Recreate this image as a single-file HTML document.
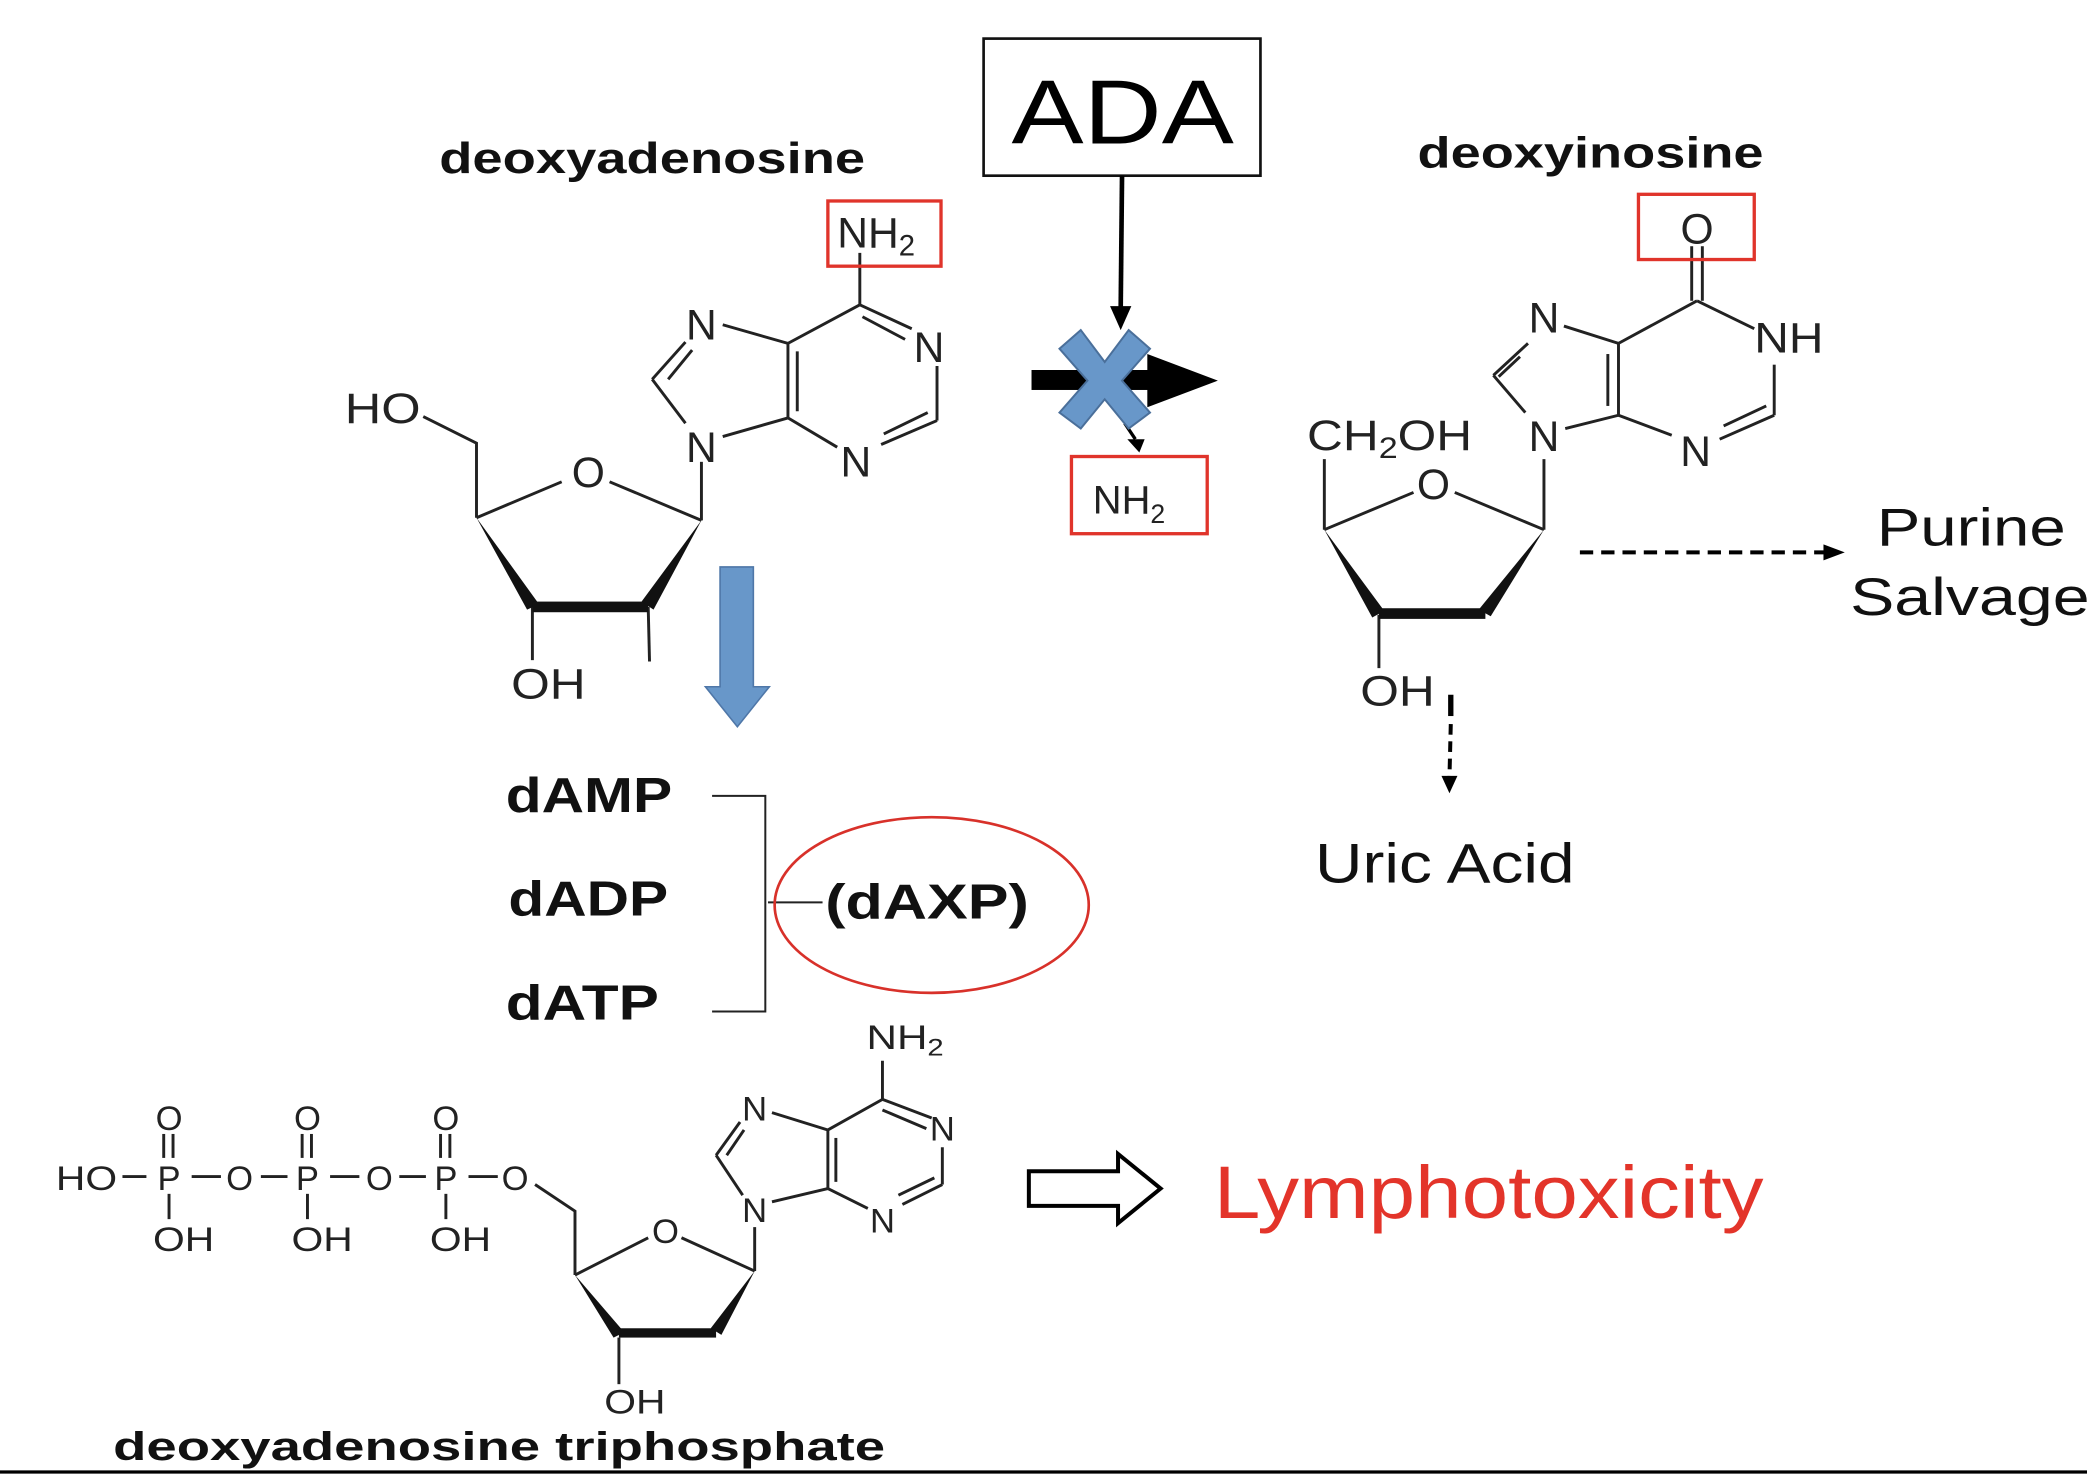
<!DOCTYPE html>
<html><head><meta charset="utf-8"><style>
html,body{margin:0;padding:0;background:#fff;}
svg{display:block;}
text{font-family:"Liberation Sans",Arial,sans-serif;}
</style></head><body>
<svg width="2087" height="1478" viewBox="0 0 1568 1110.5" preserveAspectRatio="none" xmlns="http://www.w3.org/2000/svg">
<rect width="1568" height="1110.5" fill="#fff"/>
<g stroke="#222" stroke-width="2.2" fill="none">
<polyline points="318,313 358,333 358,389"/>
<line x1="358" y1="389" x2="422" y2="362"/>
<line x1="458" y1="362" x2="527" y2="391"/>
<line x1="527" y1="391" x2="527" y2="347"/>
<line x1="515" y1="318" x2="490" y2="285"/>
<line x1="490" y1="285" x2="515" y2="257"/>
<line x1="502" y1="285" x2="520" y2="263"/>
<line x1="543" y1="244" x2="592" y2="258"/>
<line x1="592" y1="258" x2="592" y2="314"/>
<line x1="599" y1="264" x2="599" y2="309"/>
<line x1="543" y1="328" x2="592" y2="314"/>
<line x1="592" y1="258" x2="646" y2="229"/>
<line x1="646" y1="229" x2="646" y2="190"/>
<line x1="646" y1="229" x2="685" y2="247"/>
<line x1="648" y1="238" x2="680" y2="255"/>
<line x1="704" y1="275" x2="704" y2="316"/>
<line x1="704" y1="316" x2="662" y2="334"/>
<line x1="697" y1="310" x2="664" y2="326"/>
<line x1="629" y1="336" x2="592" y2="314"/>
<line x1="400" y1="456" x2="400" y2="496"/>
<line x1="487" y1="456" x2="488" y2="497"/>
<line x1="1271" y1="185" x2="1271" y2="226"/>
<line x1="1279" y1="185" x2="1279" y2="226"/>
<line x1="1275" y1="226" x2="1318" y2="247"/>
<line x1="1333" y1="274" x2="1333" y2="312"/>
<line x1="1333" y1="312" x2="1292" y2="330"/>
<line x1="1327" y1="305" x2="1295" y2="320"/>
<line x1="1256" y1="327" x2="1216" y2="312"/>
<line x1="1216" y1="312" x2="1216" y2="258"/>
<line x1="1208" y1="305" x2="1208" y2="266"/>
<line x1="1216" y1="258" x2="1275" y2="226"/>
<line x1="1216" y1="258" x2="1175" y2="245"/>
<line x1="1148" y1="258" x2="1122" y2="282"/>
<line x1="1142" y1="268" x2="1126" y2="283"/>
<line x1="1122" y1="282" x2="1146" y2="310"/>
<line x1="1176" y1="322" x2="1216" y2="312"/>
<line x1="1160" y1="345" x2="1160" y2="398"/>
<line x1="995" y1="398" x2="995" y2="345"/>
<line x1="995" y1="398" x2="1062" y2="370"/>
<line x1="1093" y1="370" x2="1160" y2="398"/>
<line x1="1036" y1="462" x2="1036" y2="502"/>
<line x1="92" y1="884" x2="110" y2="884"/>
<line x1="144" y1="884" x2="166" y2="884"/>
<line x1="196" y1="884" x2="216" y2="884"/>
<line x1="248" y1="884" x2="270" y2="884"/>
<line x1="300" y1="884" x2="320" y2="884"/>
<line x1="352" y1="884" x2="374" y2="884"/>
<line x1="123" y1="852" x2="123" y2="870"/><line x1="130" y1="852" x2="130" y2="870"/>
<line x1="227" y1="852" x2="227" y2="870"/><line x1="234" y1="852" x2="234" y2="870"/>
<line x1="331" y1="852" x2="331" y2="870"/><line x1="338" y1="852" x2="338" y2="870"/>
<line x1="127" y1="897" x2="127" y2="916"/>
<line x1="231" y1="897" x2="231" y2="916"/>
<line x1="335" y1="897" x2="335" y2="916"/>
<polyline points="402,890 432,910 432,958"/>
<line x1="432" y1="958" x2="487" y2="930"/>
<line x1="512" y1="930" x2="567" y2="955"/>
<line x1="567" y1="955" x2="567" y2="922"/>
<line x1="558" y1="898" x2="538" y2="868"/>
<line x1="538" y1="868" x2="556" y2="843"/>
<line x1="546" y1="868" x2="559" y2="849"/>
<line x1="580" y1="836" x2="622" y2="849"/>
<line x1="622" y1="849" x2="622" y2="893"/>
<line x1="628" y1="855" x2="628" y2="888"/>
<line x1="580" y1="903" x2="622" y2="893"/>
<line x1="622" y1="849" x2="663" y2="826"/>
<line x1="663" y1="826" x2="663" y2="797"/>
<line x1="663" y1="826" x2="700" y2="840"/>
<line x1="663" y1="834" x2="696" y2="848"/>
<line x1="708" y1="862" x2="708" y2="890"/>
<line x1="708" y1="890" x2="678" y2="905"/>
<line x1="702" y1="885" x2="675" y2="898"/>
<line x1="652" y1="908" x2="622" y2="893"/>
<line x1="465" y1="1005" x2="465" y2="1040"/>
<polyline points="535,598 575,598 575,760 535,760" stroke-width="1.5"/>
<line x1="577" y1="678" x2="618" y2="678" stroke-width="1.5"/>
</g>
<g fill="#111">
<polygon points="358,389 396,458 405,454"/>
<rect x="400" y="452" width="87" height="8"/>
<polygon points="527,391 482,452 491,458"/>
<polygon points="995,398 1031,464 1040,459"/>
<rect x="1036" y="457" width="80" height="8"/>
<polygon points="1160,398 1111,458 1120,463"/>
<polygon points="432,958 461,1005 469,1001"/>
<rect x="465" y="998" width="73" height="7"/>
<polygon points="567,955 534,998 542,1003"/>
</g>
<g font-size="32" fill="#222">
<text x="259" y="318" textLength="57" lengthAdjust="spacingAndGlyphs">HO</text>
<text x="442" y="366" text-anchor="middle">O</text>
<text x="527" y="347" text-anchor="middle">N</text>
<text x="527" y="255" text-anchor="middle">N</text>
<text x="698" y="272" text-anchor="middle">N</text>
<text x="643" y="358" text-anchor="middle">N</text>
<text x="629" y="186">NH<tspan font-size="22" dy="6">2</tspan></text>
<text x="384" y="525" textLength="56" lengthAdjust="spacingAndGlyphs">OH</text>
<text x="1275" y="183" text-anchor="middle">O</text>
<text x="1318" y="265" textLength="52" lengthAdjust="spacingAndGlyphs">NH</text>
<text x="1160" y="250" text-anchor="middle">N</text>
<text x="1160" y="339" text-anchor="middle">N</text>
<text x="1274" y="350" text-anchor="middle">N</text>
<text x="982" y="338" textLength="124" lengthAdjust="spacingAndGlyphs">CH<tspan font-size="22" dy="6">2</tspan><tspan dy="-6">OH</tspan></text>
<text x="1077" y="375" text-anchor="middle">O</text>
<text x="1022" y="530" textLength="56" lengthAdjust="spacingAndGlyphs">OH</text>
</g>
<g font-size="26" fill="#222">
<text x="42" y="894" textLength="46" lengthAdjust="spacingAndGlyphs">HO</text>
<text x="127" y="894" text-anchor="middle">P</text>
<text x="180" y="894" text-anchor="middle">O</text>
<text x="231" y="894" text-anchor="middle">P</text>
<text x="285" y="894" text-anchor="middle">O</text>
<text x="335" y="894" text-anchor="middle">P</text>
<text x="387" y="894" text-anchor="middle">O</text>
<text x="127" y="849" text-anchor="middle">O</text>
<text x="231" y="849" text-anchor="middle">O</text>
<text x="335" y="849" text-anchor="middle">O</text>
<text x="115" y="940" textLength="46" lengthAdjust="spacingAndGlyphs">OH</text>
<text x="219" y="940" textLength="46" lengthAdjust="spacingAndGlyphs">OH</text>
<text x="323" y="940" textLength="46" lengthAdjust="spacingAndGlyphs">OH</text>
<text x="500" y="934" text-anchor="middle">O</text>
<text x="567" y="918" text-anchor="middle">N</text>
<text x="567" y="842" text-anchor="middle">N</text>
<text x="708" y="857" text-anchor="middle">N</text>
<text x="663" y="926" text-anchor="middle">N</text>
<text x="651" y="788" textLength="58" lengthAdjust="spacingAndGlyphs">NH<tspan font-size="18" dy="5">2</tspan></text>
<text x="454" y="1062" textLength="46" lengthAdjust="spacingAndGlyphs">OH</text>
</g>
<g font-weight="bold" fill="#111">
<text x="330" y="130" font-size="33" textLength="320" lengthAdjust="spacingAndGlyphs">deoxyadenosine</text>
<text x="1065" y="126" font-size="33" textLength="260" lengthAdjust="spacingAndGlyphs">deoxyinosine</text>
<text x="85" y="1097" font-size="30" textLength="580" lengthAdjust="spacingAndGlyphs">deoxyadenosine triphosphate</text>
<text x="380" y="610" font-size="37" textLength="125" lengthAdjust="spacingAndGlyphs">dAMP</text>
<text x="382" y="688" font-size="37" textLength="120" lengthAdjust="spacingAndGlyphs">dADP</text>
<text x="380" y="766" font-size="37" textLength="115" lengthAdjust="spacingAndGlyphs">dATP</text>
<text x="620" y="690" font-size="37" textLength="153" lengthAdjust="spacingAndGlyphs">(dAXP)</text>
</g>
<ellipse cx="700" cy="680" rx="118" ry="66" fill="none" stroke="#d8312a" stroke-width="2"/>
<rect x="622" y="151" width="85" height="49" fill="none" stroke="#e0342b" stroke-width="2.5"/>
<rect x="1231" y="146" width="87" height="49" fill="none" stroke="#e0342b" stroke-width="2.5"/>
<rect x="805" y="343" width="102" height="58" fill="none" stroke="#e0342b" stroke-width="2.5"/>
<text x="821" y="386" font-size="30" fill="#222">NH<tspan font-size="20" dy="7">2</tspan></text>
<rect x="739" y="29" width="208" height="103" fill="#fff" stroke="#111" stroke-width="2"/>
<text x="760" y="108" font-size="68" fill="#000" textLength="167" lengthAdjust="spacingAndGlyphs">ADA</text>
<line x1="843" y1="132" x2="842" y2="232" stroke="#000" stroke-width="3.5"/>
<polygon points="834,230 850,230 842,248" fill="#000"/>
<rect x="775" y="278" width="90" height="15" fill="#000"/>
<polygon points="862,266 915,286 862,306" fill="#000"/>
<line x1="845" y1="318" x2="853" y2="330" stroke="#000" stroke-width="2.5"/>
<polygon points="847,330 860,330 856,340" fill="#000"/>
<polygon points="812,248 830,272 848,248 864,262 843,286 864,310 848,322 830,300 812,322 796,310 817,286 796,262" fill="#6897c9" stroke="#4a6f9a" stroke-width="1.5"/>
<polygon points="541,426 566,426 566,516 578,516 554,546 530,516 541,516" fill="#6897c9" stroke="#4f77a8" stroke-width="1.2"/>
<line x1="1187" y1="415" x2="1373" y2="415" stroke="#000" stroke-width="3" stroke-dasharray="10,6"/>
<polygon points="1370,409 1386,415 1370,421" fill="#000"/>
<line x1="1090" y1="522" x2="1090" y2="538" stroke="#000" stroke-width="4"/>
<line x1="1090" y1="544" x2="1089" y2="584" stroke="#000" stroke-width="3" stroke-dasharray="8,5"/>
<polygon points="1083,583 1095,583 1089,596" fill="#000"/>
<text x="1410" y="410" font-size="40" fill="#111" textLength="142" lengthAdjust="spacingAndGlyphs">Purine</text>
<text x="1390" y="462" font-size="40" fill="#111" textLength="180" lengthAdjust="spacingAndGlyphs">Salvage</text>
<text x="988" y="663" font-size="42" fill="#111" textLength="195" lengthAdjust="spacingAndGlyphs">Uric Acid</text>
<polygon points="773,880 840,880 840,867 872,893 840,919 840,906 773,906" fill="#fff" stroke="#000" stroke-width="3"/>
<text x="912" y="915" font-size="56" fill="#e3342a" textLength="413" lengthAdjust="spacingAndGlyphs">Lymphotoxicity</text>
<line x1="0" y1="1106" x2="1568" y2="1106" stroke="#000" stroke-width="2.5"/>
</svg>
</body></html>
